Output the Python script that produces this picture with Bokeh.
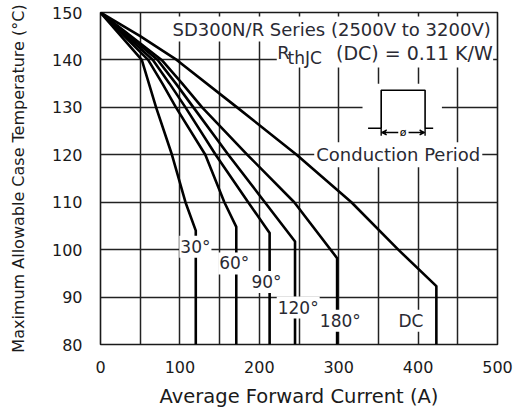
from bokeh.plotting import figure
from bokeh.models import Range1d, FixedTicker, Label, Arrow, VeeHead
from bokeh.embed import file_html
from bokeh.resources import INLINE

# ---- data ----
x_ticks = [0, 100, 200, 300, 400, 500]
x_grid = [50, 100, 150, 200, 250, 300, 350, 400, 450]
y_ticks = [80, 90, 100, 110, 120, 130, 140, 150]

curve_names = ["30°", "60°", "90°", "120°", "180°", "DC"]
i_30 = [0, 52, 61, 70, 90, 107, 120]
t_30 = [150, 140, 135, 130, 120, 110, 104]
i_60 = [0, 60, 78, 95, 132, 156, 171]
t_60 = [150, 140, 135, 130, 120, 110, 104.8]
i_90 = [0, 66, 87, 107, 145, 186, 213]
t_90 = [150, 140, 135, 130, 120, 110, 103.5]
i_120 = [0, 72, 95, 117, 161, 207, 245]
t_120 = [150, 140, 135, 130, 120, 110, 101.7]
i_180 = [0, 77, 103, 128, 185, 244, 298]
t_180 = [150, 140, 135, 130, 120, 110, 98.2]
i_dc = [0, 50, 96, 172, 247, 316, 375, 423]
t_dc = [150, 145, 140, 130, 120, 110, 100, 92.3]

currents = [i_30, i_60, i_90, i_120, i_180, i_dc]
temps = [t_30, t_60, t_90, t_120, t_180, t_dc]

# label anchor positions (A, degC)
label_x = [119.5, 168.5, 209, 249, 302, 391]
label_y = [100.6, 97.1, 93.2, 87.8, 85.0, 85.0]

FONT = "DejaVu Sans"
INK = "#1a1a1a"
TXT = "#2a2a33"

p = figure(width=524, height=410, x_range=Range1d(0, 500), y_range=Range1d(80, 150),
           output_backend="svg", toolbar_location=None,
           min_border_left=100, min_border_right=27, min_border_top=12, min_border_bottom=64)
p.background_fill_color = "white"
p.border_fill_color = "white"
p.outline_line_color = INK
p.outline_line_width = 1.6
p.outline_line_alpha = 1

p.xaxis.ticker = FixedTicker(ticks=x_ticks)
p.yaxis.ticker = FixedTicker(ticks=y_ticks)
p.xgrid.ticker = FixedTicker(ticks=x_grid)
p.ygrid.ticker = FixedTicker(ticks=y_ticks)
for g in (p.xgrid, p.ygrid):
    g.grid_line_color = "#222222"
    g.grid_line_width = 1.5
    g.grid_line_alpha = 1

for ax in (p.xaxis, p.yaxis):
    ax.axis_line_color = None
    ax.major_tick_line_color = None
    ax.minor_tick_line_color = None
    ax.major_label_text_font = FONT
    ax.major_label_text_font_size = "16px"
    ax.major_label_text_color = INK
    ax.axis_label_text_font = FONT
    ax.axis_label_text_font_style = "normal"
    ax.axis_label_text_color = INK

p.xaxis.major_label_standoff = 10
p.yaxis.major_label_standoff = 12
p.xaxis.axis_label = "Average Forward Current (A)"
p.xaxis.axis_label_text_font_size = "19.5px"
p.xaxis.axis_label_standoff = 9
p.yaxis.axis_label = "Maximum Allowable Case Temperature (°C)"
p.yaxis.axis_label_text_font_size = "16px"
p.yaxis.axis_label_standoff = 21

# white boxes behind the second header line and the conduction-period icon
p.quad(left=[222], right=[494.5], bottom=[138.4], top=[144.0],
       fill_color="white", line_color=None)
p.quad(left=[330], right=[430], bottom=[121.8], top=[135.0],
       fill_color="white", line_color=None)

# curves with vertical drop to the bottom of the chart
ymin = p.y_range.start
for xs, ys in zip(currents, temps):
    p.line(xs + [xs[-1]], ys + [ymin], line_color="black", line_width=2.6,
           line_join="round")

# curve labels
for name, lx, ly in zip(curve_names, label_x, label_y):
    p.add_layout(Label(x=lx, y=ly, text=name, text_align="center", text_baseline="middle",
                       text_font=FONT, text_font_size="17px", text_color=TXT,
                       background_fill_color="white", padding=1))

# header texts
p.add_layout(Label(x=494, y=146.5, text="SD300N/R Series (2500V to 3200V)",
                   text_align="right", text_baseline="middle", text_font=FONT,
                   text_font_size="18px", text_color=TXT,
                   background_fill_color="white", padding=2))
p.add_layout(Label(x=494, y=141.5, text="(DC) = 0.11 K/W",
                   text_align="right", text_baseline="middle", text_font=FONT,
                   text_font_size="19px", text_color=TXT))
p.add_layout(Label(x=235.5, y=140.4, text="thJC",
                   text_align="left", text_baseline="middle", text_font=FONT,
                   text_font_size="17px", text_color=TXT))
p.add_layout(Label(x=222.5, y=141.5, text="R",
                   text_align="left", text_baseline="middle", text_font=FONT,
                   text_font_size="18px", text_color=TXT))

# conduction period icon
p.line([337, 353.5, 353.5, 408.8, 408.8, 419], [125.6, 125.6, 133.6, 133.6, 125.6, 125.6],
       line_color="black", line_width=1.6)
p.segment(x0=[353.5, 408.8], y0=[125.6, 125.6], x1=[353.5, 408.8], y1=[124.0, 124.0],
          line_color="black", line_width=1.4)
p.add_layout(Arrow(x_start=375, y_start=124.7, x_end=354, y_end=124.7,
                   end=VeeHead(size=5, line_color="black", line_width=1.2),
                   line_color="black", line_width=1.4))
p.add_layout(Arrow(x_start=388, y_start=124.7, x_end=408.3, y_end=124.7,
                   end=VeeHead(size=5, line_color="black", line_width=1.2),
                   line_color="black", line_width=1.4))
p.add_layout(Label(x=381, y=124.7, text="ø", text_align="center", text_baseline="middle",
                   text_font=FONT, text_font_size="11px", text_color="black"))
p.add_layout(Label(x=375, y=120, text="Conduction Period",
                   text_align="center", text_baseline="middle", text_font=FONT,
                   text_font_size="18px", text_color=TXT,
                   background_fill_color="white", padding=2))

open("out.html", "w").write(file_html(p, INLINE))
